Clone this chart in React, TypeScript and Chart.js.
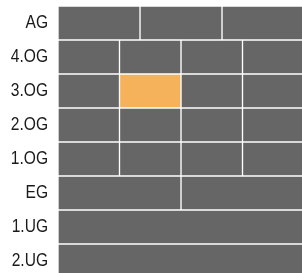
import React, { useEffect, useRef } from "react";
import { Chart, registerables } from "chart.js";

Chart.register(...registerables);

const floors = ["AG", "4.OG", "3.OG", "2.OG", "1.OG", "EG", "1.UG", "2.UG"];
const unit1 = [4, 3, 3, 3, 3, 6, 12, 12];
const unit2 = [4, 3, 3, 3, 3, 6, null, null];
const unit3 = [4, 3, 3, 3, 3, null, null, null];
const unit4 = [null, 3, 3, 3, 3, null, null, null];
const units = [unit1, unit2, unit3, unit4];
const highlightUnit = 1;
const highlightFloor = "3.OG";
const totalWidth = 12;

const GRAY = "#666666";
const ORANGE = "#f6b25b";
const LABEL_COLOR = "#1a1a1a";
const LABEL_FONT = "19px 'Liberation Sans', Arial, sans-serif";

// Draws the category labels of the y axis, condensed horizontally like the reference.
const condensedLabels = {
  id: "condensedLabels",
  afterDraw(chart: any) {
    const y = chart.scales.y;
    const ctx = chart.ctx;
    ctx.save();
    ctx.fillStyle = LABEL_COLOR;
    ctx.font = LABEL_FONT;
    ctx.textAlign = "right";
    ctx.textBaseline = "middle";
    floors.forEach((f, i) => {
      const py = y.getPixelForValue(i);
      ctx.save();
      ctx.translate(y.right - 10, py);
      ctx.scale(0.82, 1);
      ctx.fillText(f, 0, 0);
      ctx.restore();
    });
    ctx.restore();
  },
};

export default function App() {
  const ref = useRef<HTMLCanvasElement | null>(null);

  useEffect(() => {
    if (!ref.current) return;
    const datasets = units.map((vals, ui) => ({
      label: "Unit " + (ui + 1),
      data: vals,
      backgroundColor: floors.map((f) =>
        ui === highlightUnit && f === highlightFloor ? ORANGE : GRAY
      ),
      borderColor: "#ffffff",
      borderWidth: 1,
      borderSkipped: false as const,
      barPercentage: 1,
      categoryPercentage: 1,
    }));
    const chart = new Chart(ref.current, {
      type: "bar",
      data: { labels: floors, datasets },
      options: {
        indexAxis: "y",
        responsive: false,
        maintainAspectRatio: false,
        devicePixelRatio: 1,
        animation: false,
        layout: { padding: { top: 6, left: 0, right: 0, bottom: 0 } },
        plugins: { legend: { display: false }, tooltip: { enabled: false } },
        scales: {
          x: { type: "linear", stacked: true, min: 0, max: totalWidth, display: false },
          y: {
            stacked: true,
            grid: { display: false, drawTicks: false },
            border: { display: false },
            ticks: { display: false },
            afterFit: (s: any) => {
              s.width = 58;
              s.paddingTop = 0;
              s.paddingBottom = 0;
            },
          },
        },
      },
      plugins: [condensedLabels],
    });
    return () => chart.destroy();
  }, []);

  return (
    <div style={{ position: "fixed", left: 0, top: 0, width: 302, height: 273, overflow: "hidden", background: "#fff" }}>
      <canvas ref={ref} width={304} height={278} style={{ display: "block", width: 304, height: 278 }} />
    </div>
  );
}
